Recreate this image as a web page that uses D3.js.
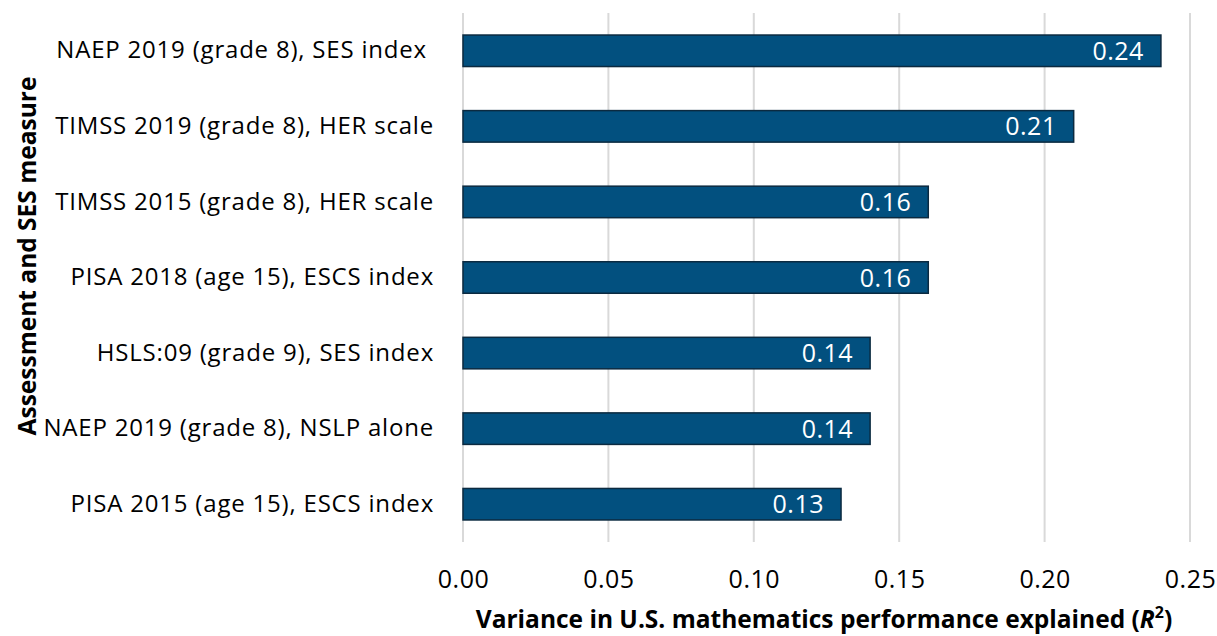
<!doctype html>
<html>
<head>
<meta charset="utf-8">
<script src="https://cdn.jsdelivr.net/npm/d3@7"></script>
<style>
  html, body { margin: 0; padding: 0; background: #fff; }
  svg { display: block; font-family: "Open Sans", sans-serif; }
  .cat { white-space: pre; }
</style>
</head>
<body>
<svg id="chart" width="1217" height="636"></svg>
<script>
  // data
  var categories = [
    'NAEP 2019 (grade 8), SES index ',
    'TIMSS 2019 (grade 8), HER scale',
    'TIMSS 2015 (grade 8), HER scale',
    'PISA 2018 (age 15), ESCS index',
    'HSLS:09 (grade 9), SES index',
    'NAEP 2019 (grade 8), NSLP alone',
    'PISA 2015 (age 15), ESCS index'
  ];
  var values = [0.24, 0.21, 0.16, 0.16, 0.14, 0.14, 0.13];
  var tickValues = [0, 0.05, 0.10, 0.15, 0.20, 0.25];

  var margin = { top: 13, right: 27, bottom: 94, left: 463 };
  var width = 1217 - margin.left - margin.right,
    height = 636 - margin.top - margin.bottom;

  var svg = d3.select('#chart');
  var g = svg.append('g')
    .attr('transform', 'translate(' + margin.left + ',' + margin.top + ')');

  var x = d3.scaleLinear().domain([0, 0.25]).range([0, width]);
  var y = d3.scaleBand().domain(categories).range([0, height])
    .paddingInner(0.583).paddingOuter(0.2915);

  // gridlines
  g.append('g').selectAll('line')
    .data(tickValues)
    .enter().append('line')
    .attr('x1', function (d) { return x(d); })
    .attr('x2', function (d) { return x(d); })
    .attr('y1', 0)
    .attr('y2', height)
    .attr('stroke', '#d9d9d9')
    .attr('stroke-width', 2);

  // x axis tick labels
  var xAxis = d3.axisBottom(x)
    .tickValues(tickValues)
    .tickFormat(d3.format('.2f'))
    .tickSize(0)
    .tickPadding(28);
  var xa = g.append('g')
    .attr('transform', 'translate(0,' + height + ')')
    .call(xAxis);
  xa.select('.domain').remove();
  xa.selectAll('text')
    .attr('font-family', '"Open Sans", sans-serif')
    .attr('font-size', 25)
    .attr('letter-spacing', 0.5)
    .attr('fill', '#000');

  // y axis category labels
  var yAxis = d3.axisLeft(y).tickSize(0).tickPadding(29);
  var ya = g.append('g').call(yAxis);
  ya.select('.domain').remove();
  ya.selectAll('text')
    .attr('class', 'cat')
    .attr('font-family', '"Open Sans", sans-serif')
    .attr('font-size', 24)
    .attr('letter-spacing', 0.8)
    .attr('fill', '#000');

  // bars
  g.append('g').selectAll('rect')
    .data(values)
    .enter().append('rect')
    .attr('x', x(0))
    .attr('y', function (d, i) { return y(categories[i]); })
    .attr('width', function (d) { return x(d) - x(0); })
    .attr('height', y.bandwidth())
    .attr('fill', '#02507f')
    .attr('stroke', '#0b2a40')
    .attr('stroke-width', 1.5);

  // value labels (inside end)
  g.append('g').selectAll('text')
    .data(values)
    .enter().append('text')
    .attr('x', function (d) { return x(d) - 17; })
    .attr('y', function (d, i) { return y(categories[i]) + y.bandwidth() / 2; })
    .attr('dy', '0.36em')
    .attr('text-anchor', 'end')
    .attr('font-size', 25)
    .attr('letter-spacing', 0.5)
    .attr('fill', '#fff')
    .text(function (d) { return d3.format('.2f')(d); });

  // x axis title
  var xt = svg.append('text')
    .attr('x', 824)
    .attr('y', 628)
    .attr('text-anchor', 'middle')
    .attr('font-size', 24.5)
    .attr('font-weight', 'bold')
    .attr('fill', '#000');
  xt.append('tspan').text('Variance in U.S. mathematics performance explained (');
  xt.append('tspan').attr('font-style', 'italic').text('R');
  xt.append('tspan').attr('font-size', 16).attr('dy', -10).text('2');
  xt.append('tspan').attr('dy', 10).text(')');

  // y axis title
  svg.append('text')
    .attr('transform', 'translate(36,256) rotate(-90)')
    .attr('text-anchor', 'middle')
    .attr('font-size', 24.5)
    .attr('font-weight', 'bold')
    .attr('fill', '#000')
    .text('Assessment and SES measure');
</script>
</body>
</html>
